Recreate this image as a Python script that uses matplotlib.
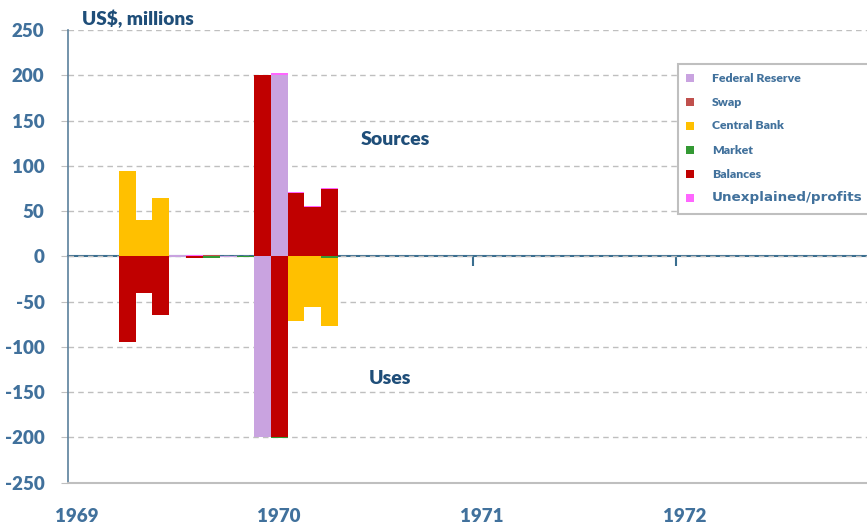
import matplotlib
matplotlib.use("Agg")
import matplotlib.pyplot as plt
from matplotlib.patches import Rectangle
import numpy as np

plt.rcParams['axes.unicode_minus'] = False

# --- data (US$ millions), monthly, Apr 1969 .. Apr 1970 ---
months = ['1969-04', '1969-05', '1969-06', '1969-07', '1969-08', '1969-09', '1969-10',
          '1969-11', '1969-12', '1970-01', '1970-02', '1970-03', '1970-04']

# sources (positive)
fed_src   = [0, 0, 0, 1.0, 0, 0, 0, 0, 0, 200.5, 0, 0, 0]
swap_src  = [0, 0, 0, 0, 0, 1.5, 0, 0, 0, 0, 0, 0, 0]
cb_src    = [94.5, 40, 64.5, 0, 0, 0, 0, 0, 0, 0, 0, 0, 0]
mkt_src   = [0, 0, 0, 0, 0, 0, 0, 0, 0, 0, 0, 0, 0]
bal_src   = [0, 0, 0, 0, 0, 0, 0, 0, 200, 0, 70, 54, 74]
unexp_src = [0, 0, 0, 0, 1.0, 0, 0.8, 0, 0.5, 1.5, 1.0, 1.2, 1.8]

# uses (negative)
fed_use = [0, 0, 0, -0.8, 0, 0, -0.8, 0, -200, 0, 0, 0, 0]
bal_use = [-95, -40.5, -65, 0, -2, 0, 0, 0, 0, -199, 0, 0, 0]
mkt_use = [0, 0, 0, 0, 0, -2, 0, -1, 0, -1.5, 0, 0, -1.5]
cb_use  = [0, 0, 0, 0, 0, 0, 0, 0, 0, 0, -71.5, -56, -75.5]

labels = ['Federal Reserve', 'Swap', 'Central Bank', 'Market', 'Balances', 'Unexplained/profits']
colors = {'Federal Reserve': '#C9A3E0', 'Swap': '#C0504D', 'Central Bank': '#FFC000',
          'Market': '#339933', 'Balances': '#C00000', 'Unexplained/profits': '#FF66FF'}

years = [1969, 1970, 1971, 1972]

TICK_C = '#41719C'
TITLE_C = '#1F4E79'
FONT = 'Lato'

# decimal-year position of each month's left edge
x = np.array([int(m[:4]) + (int(m[5:]) - 1) / 12 for m in months])
w = 1 / 12

fig = plt.figure(figsize=(8.67, 5.27), dpi=100)
ax = fig.add_axes([68 / 867, 1 - 482.7 / 527, (867 - 68) / 867, (482.7 - 30) / 527])

# stacked positives
src = [('Federal Reserve', fed_src), ('Swap', swap_src), ('Central Bank', cb_src),
       ('Market', mkt_src), ('Balances', bal_src), ('Unexplained/profits', unexp_src)]
bottom = np.zeros(len(months))
for name, vals in src:
    vals = np.array(vals, dtype=float)
    ax.bar(x, vals, w, bottom=bottom, align='edge', color=colors[name], linewidth=0, zorder=2)
    bottom += vals

# stacked negatives
use = [('Federal Reserve', fed_use), ('Balances', bal_use), ('Market', mkt_use),
       ('Central Bank', cb_use)]
bottom = np.zeros(len(months))
for name, vals in use:
    vals = np.array(vals, dtype=float)
    ax.bar(x, vals, w, bottom=bottom, align='edge', color=colors[name], linewidth=0, zorder=2)
    bottom += vals

ax.set_xlim(1969, 1969 + 799 / 202.7)
ax.set_ylim(-250, 250)
ax.set_yticks(np.arange(-250, 251, 50))
ax.yaxis.grid(True, color='#BFBFBF', linestyle=(0, (4, 3)), linewidth=1, zorder=0)
ax.set_axisbelow(True)

for s in ['top', 'right']:
    ax.spines[s].set_visible(False)
ax.spines['left'].set_color('#5B809C')
ax.spines['left'].set_linewidth(1.2)
ax.spines['bottom'].set_color('#BFBFBF')
ax.spines['bottom'].set_linewidth(1.5)

ax.tick_params(axis='y', length=5, color='#BFBFBF', pad=12, labelcolor=TICK_C)
for t in ax.get_yticklabels():
    t.set_fontfamily(FONT)
    t.set_fontweight('heavy')
    t.set_fontsize(13.5)

# year labels centred on the first month of each year
ax.set_xticks([yr + 1 / 24 for yr in years])
ax.set_xticklabels([str(yr) for yr in years])
ax.tick_params(axis='x', length=0, pad=18, labelcolor=TICK_C)
for t in ax.get_xticklabels():
    t.set_fontfamily(FONT)
    t.set_fontweight('heavy')
    t.set_fontsize(13.5)

# zero axis with year ticks
sec = ax.secondary_xaxis(0.5)
sec.set_xticks(years[1:])
sec.set_xticklabels([])
sec.spines['bottom'].set_color('#3A6E8F')
sec.spines['top'].set_color('#3A6E8F')
sec.spines['bottom'].set_linewidth(1.5)
sec.spines['top'].set_linewidth(1.5)
sec.tick_params(axis='x', direction='in', length=7, width=1.5, color='#3A6E8F')

fig.text(82 / 867, 1 - 19 / 527, 'US$, millions', fontfamily=FONT, fontweight='heavy',
         fontsize=13.8, color=TITLE_C, va='center', ha='left')

ax.text(1970.613, 129, 'Sources', fontfamily=FONT, fontweight='heavy', fontsize=14,
        color=TITLE_C, ha='center', va='center')
ax.text(1970.586, -135, 'Uses', fontfamily=FONT, fontweight='heavy', fontsize=14,
        color=TITLE_C, ha='center', va='center')

# legend box
fig.patches.append(Rectangle((678 / 867, 1 - 214 / 527), 200 / 867, 150 / 527,
                             transform=fig.transFigure, facecolor='white',
                             edgecolor='#BFBFBF', linewidth=1.5, zorder=5))
for i, name in enumerate(labels):
    yc = 1 - (78 + 24 * i) / 527
    fig.patches.append(Rectangle((686 / 867, yc - 4 / 527), 8 / 867, 8 / 527,
                                 transform=fig.transFigure, facecolor=colors[name],
                                 edgecolor='none', zorder=6))
    if name == 'Unexplained/profits':
        fig.text(712 / 867, yc, name, fontfamily='DejaVu Sans', fontweight='bold',
                 fontsize=9.7, color=TICK_C, va='center', ha='left', zorder=7)
    else:
        fig.text(712 / 867, yc, name, fontfamily=FONT, fontweight='heavy',
                 fontsize=8.8, color=TICK_C, va='center', ha='left', zorder=7)

fig.savefig('out.png', dpi=100)
